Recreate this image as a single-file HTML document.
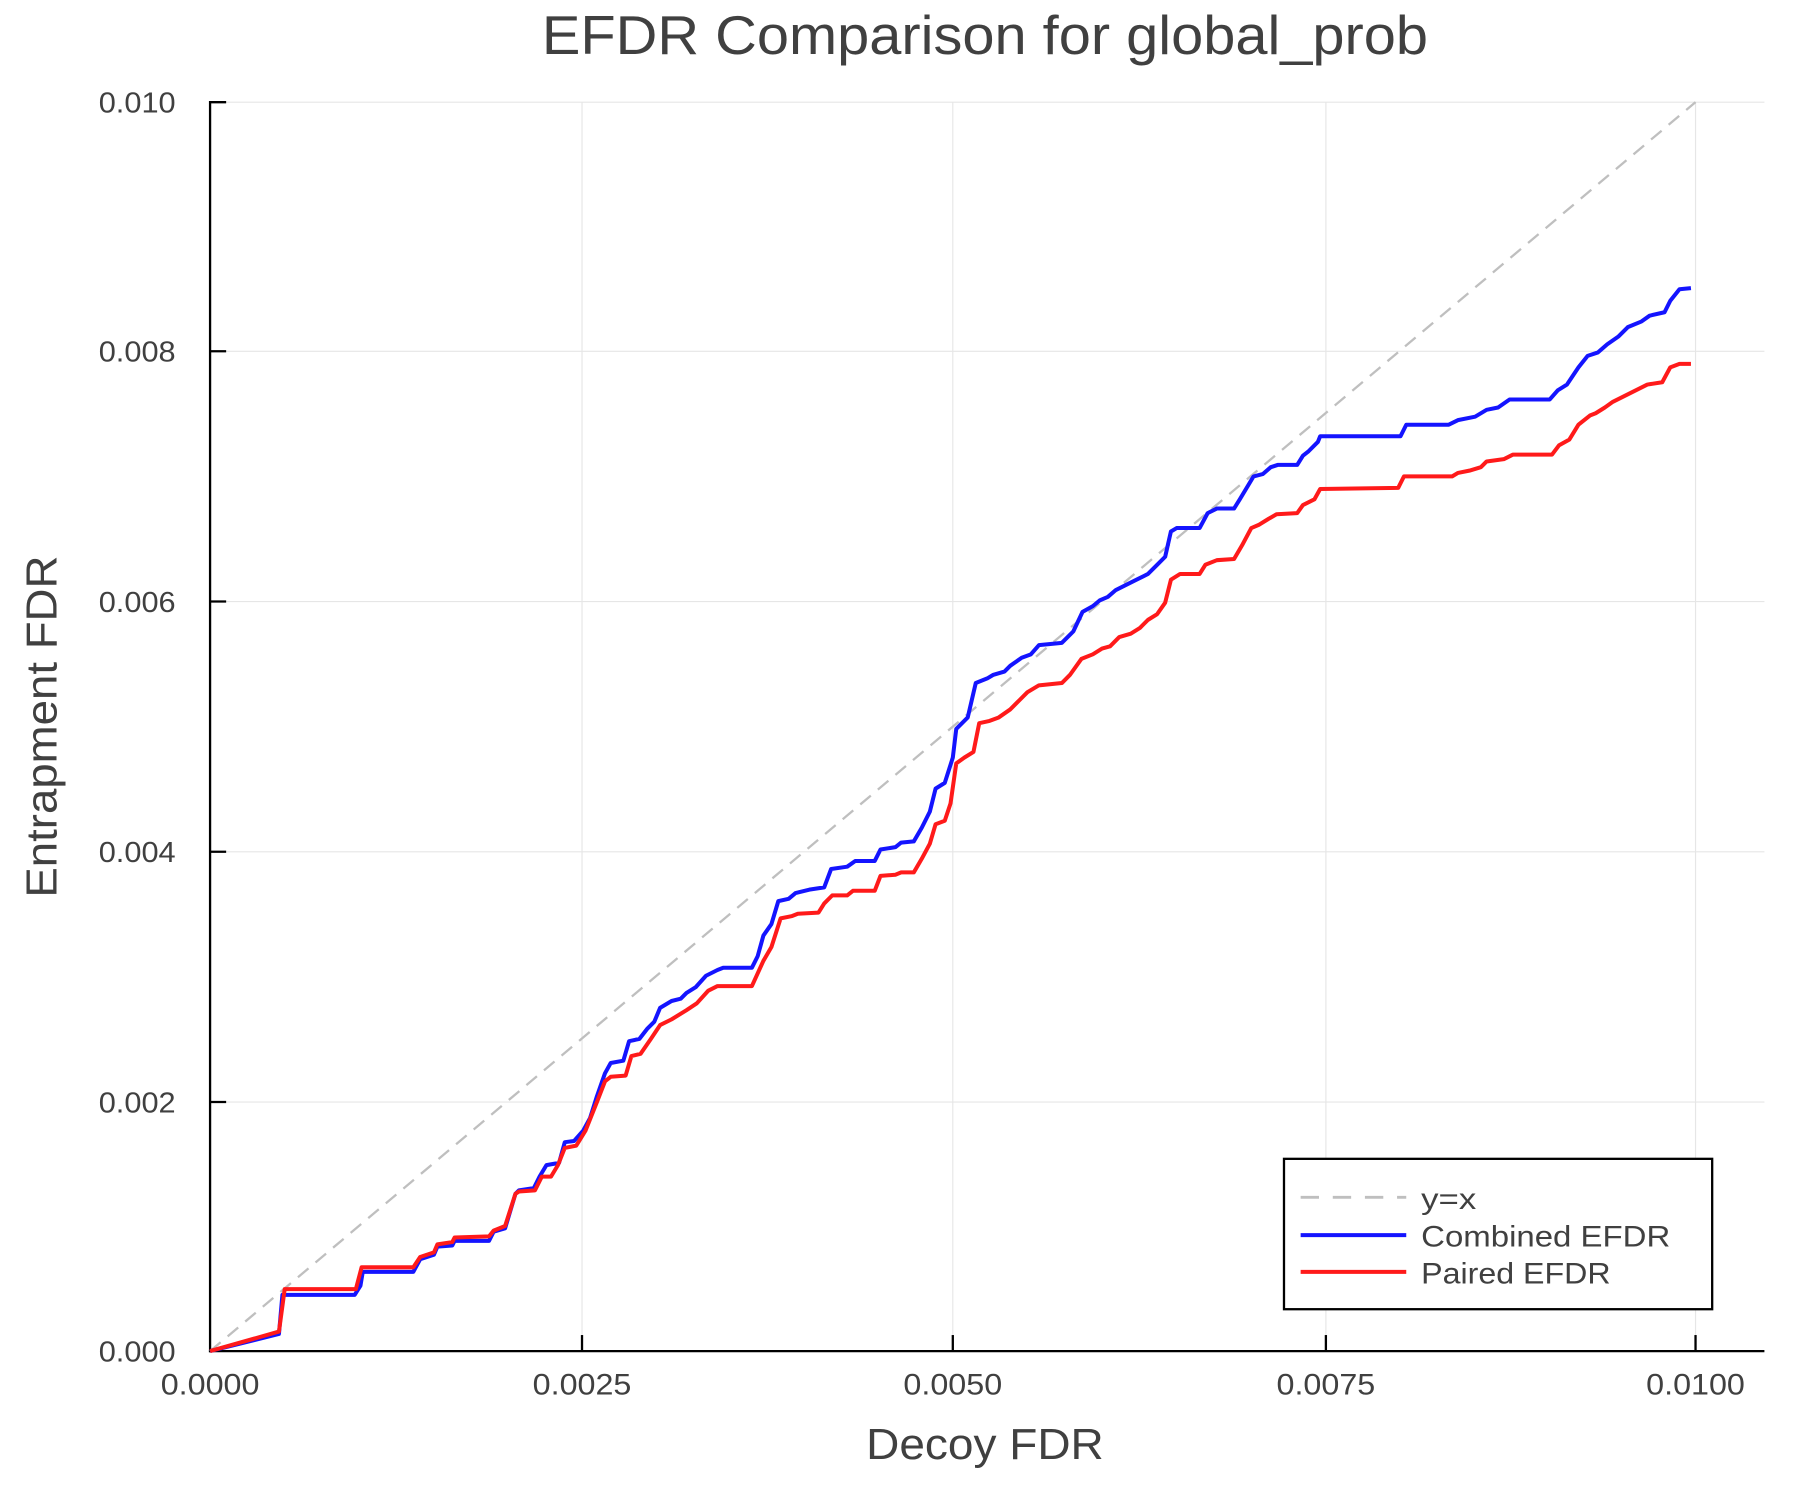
<!DOCTYPE html>
<html><head><meta charset="utf-8"><style>html,body{margin:0;padding:0;background:#fff}svg{display:block}</style></head>
<body>
<svg width="1800" height="1500" viewBox="0 0 1568 1306.7" preserveAspectRatio="none" xmlns="http://www.w3.org/2000/svg" font-family="Liberation Sans, sans-serif" fill="#404040">
<rect width="1568" height="1306.7" fill="#fff"/>
<g stroke="#e6e6e6" stroke-width="1">
<line x1="507" y1="89" x2="507" y2="1177"/><line x1="830" y1="89" x2="830" y2="1177"/><line x1="1155" y1="89" x2="1155" y2="1177"/><line x1="1477" y1="89" x2="1477" y2="1177"/>
<line x1="183" y1="960" x2="1537" y2="960"/><line x1="183" y1="742" x2="1537" y2="742"/><line x1="183" y1="524" x2="1537" y2="524"/><line x1="183" y1="306" x2="1537" y2="306"/><line x1="183" y1="89" x2="1537" y2="89"/>
</g>
<g stroke="#000" stroke-width="2">
<line x1="183" y1="88" x2="183" y2="1178"/><line x1="182" y1="1177" x2="1537" y2="1177"/>
<line x1="507" y1="1177" x2="507" y2="1163"/><line x1="830" y1="1177" x2="830" y2="1163"/><line x1="1155" y1="1177" x2="1155" y2="1163"/><line x1="1477" y1="1177" x2="1477" y2="1163"/>
<line x1="183" y1="960" x2="197" y2="960"/><line x1="183" y1="742" x2="197" y2="742"/><line x1="183" y1="524" x2="197" y2="524"/><line x1="183" y1="306" x2="197" y2="306"/><line x1="183" y1="89" x2="197" y2="89"/>
</g>
<g font-size="25" text-anchor="end">
<text x="153" y="1186" textLength="67" lengthAdjust="spacingAndGlyphs">0.000</text>
<text x="153" y="969" textLength="67" lengthAdjust="spacingAndGlyphs">0.002</text>
<text x="153" y="751" textLength="67" lengthAdjust="spacingAndGlyphs">0.004</text>
<text x="153" y="533" textLength="67" lengthAdjust="spacingAndGlyphs">0.006</text>
<text x="153" y="315" textLength="67" lengthAdjust="spacingAndGlyphs">0.008</text>
<text x="153" y="98" textLength="67" lengthAdjust="spacingAndGlyphs">0.010</text>
</g>
<g font-size="26" text-anchor="middle">
<text x="183" y="1215" textLength="86" lengthAdjust="spacingAndGlyphs">0.0000</text>
<text x="507" y="1215" textLength="86" lengthAdjust="spacingAndGlyphs">0.0025</text>
<text x="830" y="1215" textLength="86" lengthAdjust="spacingAndGlyphs">0.0050</text>
<text x="1155" y="1215" textLength="86" lengthAdjust="spacingAndGlyphs">0.0075</text>
<text x="1477" y="1215" textLength="86" lengthAdjust="spacingAndGlyphs">0.0100</text>
</g>
<text x="858" y="1271" font-size="38" text-anchor="middle" textLength="207" lengthAdjust="spacingAndGlyphs">Decoy FDR</text>
<text transform="translate(49,633) rotate(-90)" font-size="38" text-anchor="middle" textLength="298" lengthAdjust="spacingAndGlyphs">Entrapment FDR</text>
<text x="858" y="47" font-size="48" text-anchor="middle" textLength="772" lengthAdjust="spacingAndGlyphs">EFDR Comparison for global_prob</text>
<line x1="183" y1="1177" x2="1477" y2="89" stroke="#bfbfbf" stroke-width="2" stroke-dasharray="12,8"/>
<polyline fill="none" stroke="#1414ff" stroke-width="3.5" stroke-linejoin="round" points="183,1177 243,1162 246,1128 309,1128 314,1120 316,1108 360,1108 366,1097 378,1093 381,1086 394,1085 396,1081 426,1081 430,1073 440,1070 449,1040 452,1037 465,1035 470,1025 476,1015 487,1013 492,995 500,994 508,985 514,974 520,955 527,935 532,926 543,924 548,907 557,905 564,896 570,890 575,878 585,872 593,870 598,865 606,860 615,850 625,845 630,843 655,843 660,833 665,815 672,805 678,785 687,783 693,778 705,775 718,773 724,757 738,755 745,750 762,750 767,740 780,738 785,734 796,733 803,721 810,707 815,687 823,682 830,660 833,635 843,625 850,595 860,591 865,588 875,585 880,580 890,573 898,570 905,562 925,560 935,550 943,533 952,528 958,523 965,520 972,514 980,510 990,505 1000,500 1008,492 1015,485 1020,463 1025,460 1045,460 1052,447 1060,443 1075,443 1080,435 1092,415 1100,413 1107,407 1113,405 1130,405 1135,397 1140,393 1148,385 1150,380 1220,380 1225,370 1262,370 1270,366 1285,363 1295,357 1305,355 1315,348 1350,348 1357,340 1365,335 1375,320 1383,310 1392,307 1400,300 1410,293 1418,285 1430,280 1437,275 1450,272 1455,262 1463,252 1473,251"/>
<polyline fill="none" stroke="#ff1a1a" stroke-width="3.5" stroke-linejoin="round" points="183,1177 243,1160 248,1123 310,1123 315,1104 360,1104 366,1095 378,1091 381,1084 394,1082 396,1078 426,1077 430,1072 440,1068 449,1040 452,1038 466,1037 472,1025 480,1025 486,1015 492,1000 502,998 510,985 520,960 527,942 532,938 545,937 550,920 558,918 567,905 575,893 585,888 598,880 607,874 617,863 625,859 655,859 660,848 665,837 672,825 680,800 690,798 695,796 713,795 718,787 725,780 738,780 743,776 762,776 767,763 780,762 785,760 796,760 803,748 810,735 815,718 823,715 828,700 833,665 840,660 848,655 853,630 862,628 870,625 880,618 888,610 895,603 905,597 925,595 932,588 942,574 952,570 960,565 967,563 975,555 985,552 993,547 1000,540 1008,535 1015,525 1020,505 1028,500 1045,500 1050,492 1060,488 1075,487 1082,475 1090,460 1097,457 1105,452 1112,448 1130,447 1135,440 1145,435 1150,426 1218,425 1223,415 1265,415 1270,412 1280,410 1290,407 1295,402 1310,400 1318,396 1352,396 1358,388 1367,383 1375,370 1385,362 1390,360 1398,355 1405,350 1415,345 1425,340 1435,335 1448,333 1455,320 1463,317 1473,317"/>
<rect x="1118.5" y="1009.5" width="373" height="131" fill="#fff" stroke="#000" stroke-width="2"/>
<line x1="1133" y1="1043" x2="1225" y2="1043" stroke="#bfbfbf" stroke-width="2.5" stroke-dasharray="16,12"/>
<line x1="1133" y1="1076" x2="1225" y2="1076" stroke="#1414ff" stroke-width="3.5"/>
<line x1="1133" y1="1108" x2="1225" y2="1108" stroke="#ff1a1a" stroke-width="3.5"/>
<g font-size="26">
<text x="1238" y="1053" textLength="48" lengthAdjust="spacingAndGlyphs">y=x</text>
<text x="1238" y="1086" textLength="217" lengthAdjust="spacingAndGlyphs">Combined EFDR</text>
<text x="1238" y="1118" textLength="165" lengthAdjust="spacingAndGlyphs">Paired EFDR</text>
</g>
</svg>
</body></html>
